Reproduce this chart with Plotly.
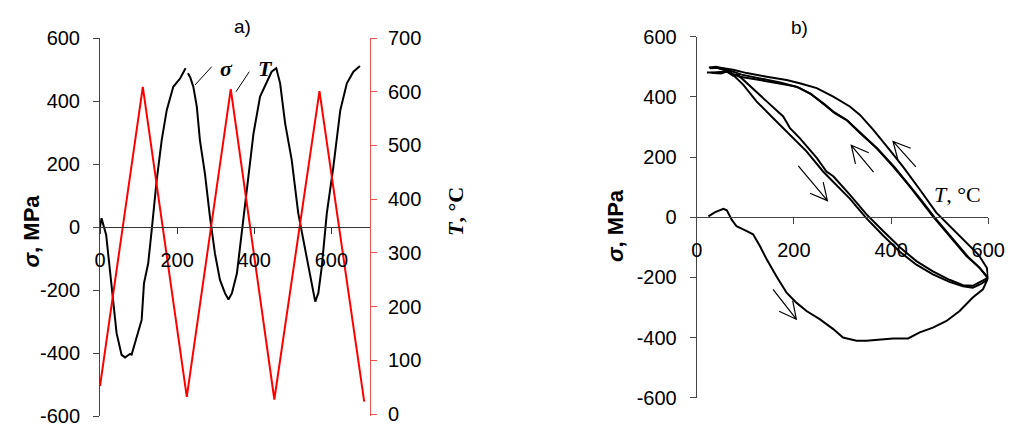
import math
import plotly.graph_objects as go

# ---------------- data: panel a) ----------------
time_T = [0, 111, 225, 339, 452, 569, 685]
temp_T = [52, 609, 32, 605, 27, 601, 23]

time_s = [0, 4, 16, 19, 30, 43, 56, 65, 72, 78, 82, 99, 108, 114, 125, 134, 147, 160, 173, 190, 208, 220, 222,
          None,
          228, 231, 234, 242, 251, 259, 272, 285, 298, 311, 324, 333, 342, 355, 368, 381, 398, 415, 432, 445, 457,
          467, 480, 497, 514, 527, 540, 552, 558, 566, 575, 588, 605, 623, 640, 657, 674]
stress_s = [0, 28, -25, -62, -200, -337, -406, -414, -408, -403, -405, -338, -295, -179, -115, -10, 149, 276, 371, 445, 472, 500, 504,
            None,
            488, 480, 475, 445, 382, 276, 170, 33, -84, -168, -210, -230, -210, -147, -10, 128, 297, 414, 456, 493, 504,
            456, 329, 213, 43, -41, -115, -200, -237, -210, -126, 43, 191, 371, 456, 493, 511]

# ---------------- data: panel b) ----------------
heat1_T = [24, 38, 55, 62, 72, 82, 103, 116, 130, 144, 164, 185, 205, 226, 253, 281, 301, 329, 349, 383, 404, 435,
           459, 486, 514, 541, 568, 589, 596, 600]
heat1_s = [3, 17, 28, 23, -8, -30, -46, -57, -96, -140, -196, -251, -284, -312, -339, -372, -400, -411, -411, -405,
           -403, -403, -383, -367, -345, -312, -267, -240, -215, -200]

cool1_T = [600, 597, 580, 555, 527, 493, 459, 424, 397, 363, 336, 315, 281, 247, 212, 185, 144, 103, 75, 48, 27]
cool1_s = [-200, -168, -125, -85, -41, 15, 92, 169, 224, 291, 340, 368, 401, 429, 445, 456, 467, 479, 490, 497, 495]

cool2_T = [600, 580, 555, 520, 486, 459, 438, 404, 370, 336, 308, 281, 260, 233, 205, 171, 130, 89, 62, 34, 21]
cool2_s = [-201, -165, -129, -63, 3, 59, 103, 169, 230, 280, 324, 351, 379, 412, 434, 445, 456, 467, 484, 481, 481]

cool3_T = [600, 582, 558, 523, 489, 462, 441, 407, 373, 339, 311, 284, 263, 236, 208, 174, 133, 92, 64, 40, 25]
cool3_s = [-205, -168, -131, -66, 0, 57, 100, 166, 226, 276, 320, 346, 375, 408, 432, 447, 460, 474, 490, 500, 498]

heat2_T = [44, 68, 96, 123, 157, 192, 226, 260, 281, 315, 349, 383, 418, 452, 486, 520, 548, 568, 585, 600]
heat2_s = [495, 484, 440, 385, 330, 274, 219, 152, 118, 62, -3, -60, -115, -158, -190, -215, -230, -234, -222, -205]

heat3_T = [30, 50, 62, 75, 85, 100, 110, 144, 178, 185, 192, 212, 247, 267, 281, 315, 349, 383, 418, 452, 486, 520,
           548, 568, 585, 600]
heat3_s = [480, 478, 484, 470, 473, 450, 434, 385, 335, 313, 296, 263, 197, 152, 136, 75, 10, -45, -100, -146, -180,
           -208, -226, -228, -215, -201]

sig_ticks = [-600, -400, -200, 0, 200, 400, 600]
sig_ticktext = ["-600", "-400", "-200", "0", "200", "400", "600"]
T_ticks = [0, 100, 200, 300, 400, 500, 600, 700]
time_ticks = [0, 200, 400, 600]
tempb_ticks = [0, 200, 400, 600]

# ---------------- layout constants ----------------
OFF = 8                      # default page margin around the plot div
W, H = 1018 - OFF, 428 - OFF
def fx(px):
    return (px - OFF) / W
def fy(py):
    return (H - (py - OFF)) / H

TICKFONT = dict(family="Liberation Sans, Arial, sans-serif", size=20, color="black")
SANS = "Liberation Sans, Arial, sans-serif"
SERIF = "Liberation Serif, Times New Roman, serif"

fig = go.Figure()

fig.add_trace(go.Scatter(x=time_T, y=temp_T, mode="lines", line=dict(color="#ff0000", width=2),
                         xaxis="x", yaxis="y2", showlegend=False))
fig.add_trace(go.Scatter(x=time_s, y=stress_s, mode="lines", line=dict(color="black", width=2),
                         xaxis="x", yaxis="y", showlegend=False, connectgaps=False))

for tx, sy in [(heat1_T, heat1_s), (cool1_T, cool1_s), (cool2_T, cool2_s), (cool3_T, cool3_s),
               (heat2_T, heat2_s), (heat3_T, heat3_s)]:
    fig.add_trace(go.Scatter(x=tx, y=sy, mode="lines", line=dict(color="black", width=2),
                             xaxis="x2", yaxis="y3", showlegend=False))

A_X = (100, 370)
A_Y = (416, 38)
B_X = (696.7, 988.3)
B_Y = (397.7, 36.7)
dom_a_x = [fx(A_X[0]), fx(A_X[1])]
dom_a_y = [fy(A_Y[0]), fy(A_Y[1])]
dom_b_x = [fx(B_X[0]), fx(B_X[1])]
dom_b_y = [fy(B_Y[0]), fy(B_Y[1])]

axis_common = dict(showgrid=False, zeroline=False, showline=True, ticks="outside", ticklen=6,
                   tickfont=TICKFONT, automargin=False)

fig.update_layout(
    width=W, height=H,
    margin=dict(l=0, r=0, t=0, b=0, autoexpand=False),
    paper_bgcolor="white", plot_bgcolor="white",
    xaxis=dict(domain=dom_a_x, range=[0, 700], tickvals=time_ticks, anchor="free",
               position=(dom_a_y[0] + dom_a_y[1]) / 2, linecolor="#333333", tickcolor="#333333",
               ticklabelstandoff=9, **axis_common),
    yaxis=dict(domain=dom_a_y, range=[-600, 600], tickvals=sig_ticks, ticktext=sig_ticktext,
               anchor="x", linecolor="#444444", tickcolor="#444444", ticklabelstandoff=9, **axis_common),
    yaxis2=dict(overlaying="y", side="right", anchor="x", range=[-3.7, 700], tickvals=T_ticks,
                linecolor="#f05050", tickcolor="#f05050", ticklabelstandoff=7, **axis_common),
    xaxis2=dict(domain=dom_b_x, range=[0, 600], tickvals=tempb_ticks, anchor="free",
                position=(dom_b_y[0] + dom_b_y[1]) / 2, linecolor="#444444", tickcolor="#444444",
                ticklabelstandoff=9, **axis_common),
    yaxis3=dict(domain=dom_b_y, range=[-600, 600], tickvals=sig_ticks, ticktext=sig_ticktext,
                anchor="x2", linecolor="#444444", tickcolor="#444444", ticklabelstandoff=9, **axis_common),
)

ann = []
# panel titles
ann.append(dict(text="a)", x=fx(232), y=fy(14), xref="paper", yref="paper", showarrow=False,
                font=dict(family=SANS, size=19, color="black")))
ann.append(dict(text="b)", x=fx(810), y=fy(15), xref="paper", yref="paper", showarrow=False,
                font=dict(family=SANS, size=19, color="black")))
# axis titles
ann.append(dict(text="<b><i>σ</i>, MPa</b>", x=fx(16), y=fy(231), xref="paper", yref="paper",
                showarrow=False, textangle=-90, font=dict(family=SANS, size=22, color="black")))
ann.append(dict(text="<b><i>T</i>, °C</b>", x=fx(455), y=fy(212), xref="paper", yref="paper",
                showarrow=False, textangle=-90, font=dict(family=SERIF, size=22, color="black")))
ann.append(dict(text="<b><i>σ</i>, MPa</b>", x=fx(616), y=fy(226), xref="paper", yref="paper",
                showarrow=False, textangle=-90, font=dict(family=SANS, size=22, color="black")))
ann.append(dict(text="<i>T</i>, °C", x=fx(983), y=fy(194), xref="paper", yref="paper",
                showarrow=False, font=dict(family=SERIF, size=22, color="black")))
# curve labels in a)
ann.append(dict(text="<b><i>σ</i></b>", x=fx(218), y=fy(54), xref="paper", yref="paper",
                showarrow=False, font=dict(family=SERIF, size=22, color="black")))
ann.append(dict(text="<b><i>T</i></b>", x=fx(256), y=fy(54), xref="paper", yref="paper",
                showarrow=False, font=dict(family=SERIF, size=22, color="black")))
fig.update_layout(annotations=ann)

# open arrows in b): (tip, tail) in data coordinates, heads built in pixel space
arrows_b = [((205, -339), (157, -240)), ((269, 55), (209, 171)),
            ((318, 239), (364, 150)), ((404, 252), (451, 167))]
kx = (B_X[1] - B_X[0]) / 600.0      # px per degC
ky = (B_Y[0] - B_Y[1]) / 1200.0     # px per MPa
HEAD_LEN, HEAD_ANG = 19, math.radians(27)
shapes = []
for (tx, ty), (ax, ay) in arrows_b:
    dxp = (ax - tx) * kx
    dyp = (ay - ty) * ky
    ang = math.atan2(dyp, dxp)
    pts = []
    for s in (1, -1):
        a = ang + s * HEAD_ANG
        pts.append((tx + HEAD_LEN * math.cos(a) / kx, ty + HEAD_LEN * math.sin(a) / ky))
    path = (f"M{ax},{ay} L{tx},{ty} M{pts[0][0]},{pts[0][1]} L{tx},{ty} L{pts[1][0]},{pts[1][1]}")
    shapes.append(dict(type="path", xref="x2", yref="y3", path=path,
                       line=dict(color="black", width=1.2)))

# leader lines in a)
shapes += [
    dict(type="line", xref="paper", yref="paper", x0=fx(211.7), y0=fy(66.7), x1=fx(195), y1=fy(85),
         line=dict(color="black", width=1)),
    dict(type="line", xref="paper", yref="paper", x0=fx(249.3), y0=fy(71.7), x1=fx(236), y1=fy(91.7),
         line=dict(color="black", width=1)),
]
fig.update_layout(shapes=shapes)

fig.write_html("out.html")
